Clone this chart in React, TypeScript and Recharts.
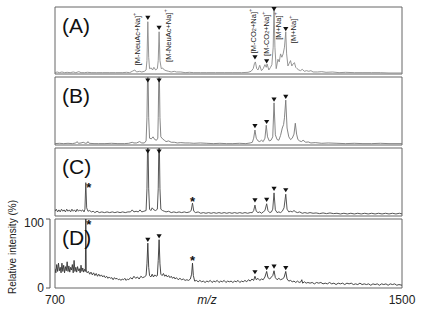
import React from "react";
import { ComposedChart, Line, Scatter, XAxis, YAxis, ReferenceArea } from "recharts";

const FONT = "Arial, 'Liberation Sans', Helvetica, sans-serif";

const mzTicks = [700, 1500];
const intensityTicks = [0, 100];

// [m/z, relative intensity %]
const spectrumA: [number, number][] = [
  [700, 2], [705, 3], [710, 2], [716, 3], [722, 2], [728, 2.5], [735, 2], [742, 3], [748, 2], [755, 3.5],
  [760, 2], [768, 2], [775, 2.5], [785, 2], [795, 2], [810, 2], [825, 2], [840, 2], [855, 2], [865, 2.5],
  [872, 2], [878, 4], [884, 6], [888, 3], [895, 4], [900, 3], [906, 4], [910, 6], [912, 20], [914, 78],
  [916, 25], [918, 8], [922, 9], [925, 6], [928, 10], [932, 6], [936, 8], [938, 20], [940, 63], [942, 20],
  [945, 8], [948, 9], [952, 6], [956, 5], [962, 4], [968, 3], [975, 4], [980, 3], [990, 3], [1000, 2],
  [1010, 2.5], [1020, 2], [1035, 2], [1050, 2], [1070, 2], [1090, 2], [1110, 2], [1130, 2], [1145, 2.5],
  [1152, 4], [1157, 8], [1160, 16], [1162, 18], [1165, 8], [1168, 6], [1172, 13], [1176, 5], [1180, 8],
  [1184, 14], [1187, 10], [1189, 15], [1193, 6], [1197, 10], [1200, 14], [1203, 40], [1205, 100], [1207, 40],
  [1210, 8], [1214, 22], [1217, 18], [1220, 30], [1223, 25], [1226, 30], [1229, 40], [1232, 63], [1234, 30],
  [1237, 12], [1240, 16], [1243, 20], [1246, 12], [1249, 15], [1252, 17], [1255, 10], [1258, 8], [1262, 6],
  [1266, 5], [1270, 7], [1275, 4], [1280, 5], [1285, 4], [1290, 5], [1295, 3], [1305, 3], [1315, 3.5],
  [1325, 2.5], [1340, 3], [1355, 2], [1370, 2.5], [1390, 2], [1410, 2], [1430, 2], [1450, 2], [1470, 1.5],
  [1500, 1.5],
];

const spectrumB: [number, number][] = [
  [700, 2], [710, 2.5], [720, 2], [730, 2.5], [740, 2], [748, 3], [751, 5], [754, 2.5], [760, 3], [765, 4],
  [770, 2.5], [774, 3], [776, 5], [779, 2.5], [790, 2], [800, 2], [815, 2], [830, 2.5], [845, 2], [860, 2],
  [870, 2.5], [878, 4], [882, 3], [888, 3], [895, 5], [900, 3], [906, 3], [910, 6], [912, 40], [914, 130],
  [916, 40], [918, 10], [922, 9], [926, 12], [930, 8], [934, 7], [937, 10], [938, 40], [940, 130], [942, 40],
  [944, 12], [948, 9], [952, 7], [956, 5], [962, 6], [968, 4], [975, 4], [982, 3], [990, 3.5], [1000, 3],
  [1010, 3], [1020, 2.5], [1035, 3], [1050, 2.5], [1065, 2], [1080, 2.5], [1095, 2], [1110, 2], [1125, 2.5],
  [1140, 2], [1150, 3], [1155, 4], [1158, 10], [1161, 22], [1164, 10], [1168, 6], [1172, 5], [1176, 7],
  [1180, 5], [1184, 10], [1187, 29], [1190, 12], [1194, 6], [1198, 7], [1202, 12], [1205, 62], [1208, 15],
  [1212, 8], [1216, 7], [1220, 14], [1224, 25], [1227, 30], [1229, 40], [1232, 66], [1235, 25], [1239, 12],
  [1243, 8], [1247, 10], [1251, 16], [1254, 32], [1257, 16], [1260, 8], [1264, 6], [1268, 5], [1272, 7],
  [1278, 4], [1284, 4.5], [1290, 3], [1300, 3.5], [1315, 2.5], [1330, 3], [1350, 2.5], [1370, 2], [1390, 2.5],
  [1410, 2], [1430, 2], [1450, 2.5], [1470, 2], [1500, 2],
];

const spectrumC: [number, number][] = [
  [700, 7], [703, 10], [706, 6], [709, 9], [712, 6], [715, 10], [718, 7], [721, 9], [724, 6], [727, 10],
  [730, 7], [733, 9], [736, 6], [739, 10], [742, 7], [745, 9], [748, 6], [751, 10], [754, 7], [757, 9],
  [760, 7], [764, 9], [767, 6], [769, 10], [771, 49], [773, 12], [776, 7], [780, 8], [784, 6], [788, 7],
  [792, 5], [797, 7], [802, 5], [808, 6], [814, 5], [820, 6], [826, 5], [832, 6], [838, 5], [844, 6],
  [850, 5], [856, 6], [862, 5], [868, 6], [874, 6], [878, 9], [882, 6], [887, 7], [892, 6], [896, 9],
  [900, 6], [905, 7], [910, 8], [912, 40], [914, 130], [916, 40], [918, 10], [921, 8], [924, 12], [928, 9],
  [932, 8], [936, 10], [938, 40], [940, 130], [942, 40], [944, 10], [948, 8], [952, 7], [956, 6], [962, 7],
  [968, 5], [974, 6], [980, 5], [986, 6], [992, 5], [998, 6], [1004, 5], [1010, 6], [1014, 8], [1017, 19],
  [1020, 7], [1024, 5], [1030, 6], [1036, 4], [1042, 5], [1048, 4], [1054, 5], [1060, 4], [1066, 5], [1072, 4],
  [1078, 5], [1084, 4], [1090, 5], [1096, 4], [1102, 5], [1108, 4], [1114, 5], [1120, 4], [1126, 5], [1132, 4],
  [1138, 5], [1144, 4], [1150, 5], [1155, 5], [1158, 8], [1161, 16], [1164, 7], [1168, 5], [1172, 6], [1176, 4],
  [1180, 6], [1184, 8], [1188, 18], [1191, 8], [1195, 5], [1199, 6], [1202, 10], [1205, 34], [1208, 9], [1212, 5],
  [1216, 6], [1220, 5], [1224, 7], [1228, 12], [1232, 32], [1235, 10], [1239, 6], [1243, 7], [1247, 6], [1251, 8],
  [1255, 6], [1259, 5], [1264, 6], [1270, 4], [1276, 5], [1282, 4], [1288, 5], [1295, 4], [1302, 4.5], [1310, 3.5],
  [1318, 4.5], [1326, 3.5], [1334, 4.5], [1342, 3.5], [1350, 4], [1358, 3], [1366, 4], [1374, 3], [1382, 4],
  [1390, 3], [1398, 4], [1406, 3], [1414, 4], [1422, 3], [1430, 4], [1438, 3], [1446, 4], [1454, 3], [1462, 4],
  [1470, 3], [1478, 4], [1486, 3], [1494, 4], [1500, 3],
];

const spectrumD: [number, number][] = [
  [700, 28], [702, 22], [704, 34], [706, 24], [708, 36], [710, 25], [712, 30], [714, 22], [716, 36], [718, 24],
  [720, 33], [722, 22], [724, 31], [726, 25], [728, 38], [730, 24], [732, 32], [734, 23], [736, 30], [738, 26],
  [740, 34], [742, 22], [744, 40], [746, 24], [748, 30], [750, 23], [752, 31], [754, 25], [756, 28], [758, 22],
  [760, 33], [762, 24], [764, 29], [766, 23], [768, 27], [770, 24], [771, 110], [772, 26], [774, 22], [777, 24],
  [780, 20], [783, 23], [786, 19], [789, 22], [792, 18], [795, 21], [798, 17], [801, 20], [804, 17], [807, 19],
  [810, 16], [813, 18], [816, 15], [819, 17], [822, 14], [825, 16], [828, 14], [831, 15], [834, 12], [837, 15],
  [840, 13], [843, 14], [846, 12], [849, 13], [852, 11], [855, 13], [858, 12], [861, 14], [864, 11], [867, 13],
  [870, 12], [874, 15], [878, 13], [882, 17], [886, 14], [890, 16], [894, 13], [898, 17], [902, 15], [906, 16],
  [910, 18], [912, 35], [914, 65], [916, 30], [918, 18], [921, 16], [924, 20], [927, 16], [930, 19], [933, 17],
  [936, 18], [938, 40], [940, 70], [942, 35], [944, 20], [947, 18], [950, 21], [953, 17], [956, 19], [959, 16],
  [962, 18], [965, 15], [968, 17], [971, 14], [974, 16], [977, 13], [980, 15], [984, 12], [988, 14], [992, 12],
  [996, 13], [1000, 11], [1004, 12], [1008, 11], [1012, 13], [1015, 20], [1017, 36], [1019, 18], [1022, 10],
  [1026, 11], [1030, 9], [1034, 11], [1038, 9], [1042, 10], [1046, 8], [1050, 10], [1054, 9], [1058, 11],
  [1062, 8], [1066, 10], [1070, 9], [1074, 11], [1078, 8], [1082, 10], [1086, 9], [1090, 11], [1094, 8],
  [1098, 10], [1102, 9], [1106, 10], [1110, 8], [1114, 10], [1118, 9], [1122, 11], [1126, 8], [1130, 10],
  [1134, 9], [1138, 11], [1142, 9], [1146, 12], [1150, 10], [1154, 13], [1158, 11], [1161, 17], [1164, 12],
  [1168, 14], [1172, 11], [1176, 13], [1180, 12], [1184, 16], [1188, 24], [1191, 15], [1195, 13], [1199, 16],
  [1202, 18], [1205, 25], [1208, 15], [1212, 12], [1216, 14], [1220, 12], [1224, 13], [1228, 15], [1232, 24],
  [1235, 13], [1239, 10], [1243, 11], [1247, 9], [1251, 10], [1255, 8], [1259, 10], [1263, 8], [1267, 9],
  [1269, 12], [1271, 7], [1275, 9], [1279, 7], [1283, 8], [1288, 7], [1293, 8], [1298, 6], [1303, 8], [1308, 7],
  [1313, 8], [1318, 6], [1323, 7], [1328, 6], [1333, 8], [1338, 6], [1343, 7], [1348, 5], [1353, 7], [1358, 6],
  [1363, 7], [1368, 5], [1373, 7], [1378, 6], [1383, 7], [1388, 5], [1393, 6], [1398, 5], [1403, 7], [1408, 5],
  [1413, 6], [1418, 5], [1423, 6], [1428, 4], [1433, 6], [1438, 5], [1443, 6], [1448, 4], [1453, 6], [1458, 5],
  [1463, 6], [1468, 4], [1473, 6], [1478, 5], [1483, 6], [1488, 4], [1493, 5], [1500, 4],
];

// peak markers (▼) [m/z, height %]
const markersA: [number, number][] = [[914, 84], [940, 69], [1161, 25], [1188, 19], [1205, 97], [1232, 67]];
const markersB: [number, number][] = [[914, 95], [940, 95], [1161, 28], [1188, 34], [1205, 67], [1232, 71]];
const markersC: [number, number][] = [[914, 95], [940, 95], [1161, 23], [1188, 24], [1205, 40], [1232, 38]];
const markersD: [number, number][] = [[914, 70], [940, 75], [1161, 23], [1188, 29], [1205, 31], [1232, 29]];

// asterisks [m/z, height %]
const asterisksC: [number, number][] = [[778, 46], [1017, 25]];
const asterisksD: [number, number][] = [[778, 95], [1017, 43]];

// ion annotations in panel A
const annotationsA = [
  { mz: 889, y: 13, ion: "M-NeuAc+Na" },
  { mz: 961, y: 18, ion: "M-NeuAc+Na" },
  { mz: 1156, y: 31, ion: "M-CO2+Na" },
  { mz: 1186, y: 27, ion: "M-CO2+Na" },
  { mz: 1214, y: 51, ion: "M+Na" },
  { mz: 1249, y: 46, ion: "M+Na" },
];

const toRows = (pts: [number, number][]) => pts.map(([mz, y]) => ({ mz, y }));

const Triangle = (props: any) => {
  const { cx, cy } = props;
  return <polygon points={`${cx - 2.6},${cy - 2} ${cx + 2.6},${cy - 2} ${cx},${cy + 2.2}`} fill="#111" />;
};

const Asterisk = (props: any) => {
  const { cx, cy } = props;
  return (
    <text x={cx} y={cy + 7} textAnchor="middle" fontSize={13} fontWeight="bold" fontFamily={FONT} fill="#111">
      *
    </text>
  );
};

const IonLabel = (props: any) => {
  const { cx, cy, payload } = props;
  const parts = String(payload.ion).split("2");
  return (
    <text
      x={cx}
      y={cy}
      transform={`rotate(-90 ${cx} ${cy})`}
      dominantBaseline="central"
      fontSize={7.5}
      fontFamily={FONT}
      fill="#222"
    >
      <tspan>{"[" + parts[0]}</tspan>
      {parts.length > 1 ? (
        <>
          <tspan dy={1.5} fontSize={5.5}>2</tspan>
          <tspan dy={-1.5}>{parts[1] + "]"}</tspan>
        </>
      ) : (
        <tspan>]</tspan>
      )}
      <tspan dy={-3} fontSize={5.5}>+</tspan>
    </text>
  );
};

interface PanelProps {
  top: number;
  height: number;
  spectrum: [number, number][];
  color: string;
  markers: [number, number][];
  asterisks?: [number, number][];
  annotations?: typeof annotationsA;
  axes?: boolean;
}

const Panel: React.FC<PanelProps> = ({ top, height, spectrum, color, markers, asterisks, annotations, axes }) => {
  const mTop = 4;
  const mBottom = axes ? 8 : 4;
  const axisH = axes ? 20 : 0;
  return (
    <div style={{ position: "absolute", left: 0, top: top - mTop }}>
      <ComposedChart
        width={426}
        height={height + mTop + mBottom + axisH}
        margin={{ top: mTop, right: 24, bottom: mBottom, left: axes ? 0 : 50 }}
      >
        <XAxis
          dataKey="mz"
          type="number"
          domain={[700, 1500]}
          ticks={mzTicks}
          hide={!axes}
          height={axisH}
          padding={{ left: 5, right: 0 }}
          allowDataOverflow
          axisLine={false}
          tickLine={false}
          tickSize={5}
          tick={{ fontSize: 12, fill: "#222", fontFamily: FONT }}
        />
        <YAxis
          type="number"
          domain={[0, 100]}
          ticks={intensityTicks}
          hide={!axes}
          width={50}
          allowDataOverflow
          tickSize={4}
          axisLine={{ stroke: "#555" }}
          tickLine={{ stroke: "#555" }}
          tick={{ fontSize: 12, fill: "#222", fontFamily: FONT }}
        />
        <ReferenceArea x1={700} x2={1500} y1={0} y2={100} fill="none" stroke="#666" strokeWidth={1} />
        <Line
          data={toRows(spectrum)}
          dataKey="y"
          type="linear"
          stroke={color}
          strokeWidth={0.9}
          dot={false}
          isAnimationActive={false}
        />
        <Scatter data={toRows(markers)} dataKey="y" shape={Triangle} isAnimationActive={false} />
        {asterisks && <Scatter data={toRows(asterisks)} dataKey="y" shape={Asterisk} isAnimationActive={false} />}
        {annotations && <Scatter data={annotations} dataKey="y" shape={IonLabel} isAnimationActive={false} />}
      </ComposedChart>
    </div>
  );
};

const letterStyle = (top: number): React.CSSProperties => ({
  position: "absolute",
  left: 62,
  top,
  fontSize: 21,
  lineHeight: "21px",
  fontFamily: FONT,
  color: "#111",
});

export default function App() {
  return (
    <div
      style={{
        position: "absolute",
        left: 0,
        top: 0,
        width: 426,
        height: 317,
        background: "#fff",
        fontFamily: FONT,
        overflow: "hidden",
      }}
    >
      <Panel top={7} height={67} spectrum={spectrumA} color="#8a8a8a" markers={markersA} annotations={annotationsA} />
      <Panel top={77} height={68} spectrum={spectrumB} color="#777" markers={markersB} />
      <Panel top={148} height={68} spectrum={spectrumC} color="#444" markers={markersC} asterisks={asterisksC} />
      <Panel top={219} height={69} spectrum={spectrumD} color="#333" markers={markersD} asterisks={asterisksD} axes />

      <div style={letterStyle(15)}>(A)</div>
      <div style={letterStyle(85)}>(B)</div>
      <div style={letterStyle(156)}>(C)</div>
      <div style={letterStyle(227)}>(D)</div>

      <div
        style={{
          position: "absolute",
          left: 12,
          top: 247,
          transform: "translate(-50%, -50%) rotate(-90deg)",
          whiteSpace: "nowrap",
          fontSize: 10,
          color: "#222",
        }}
      >
        Relative intensity (%)
      </div>
      <div
        style={{
          position: "absolute",
          left: 207,
          top: 293,
          transform: "translateX(-50%)",
          fontSize: 12,
          fontStyle: "italic",
          color: "#222",
        }}
      >
        m/z
      </div>
    </div>
  );
}
